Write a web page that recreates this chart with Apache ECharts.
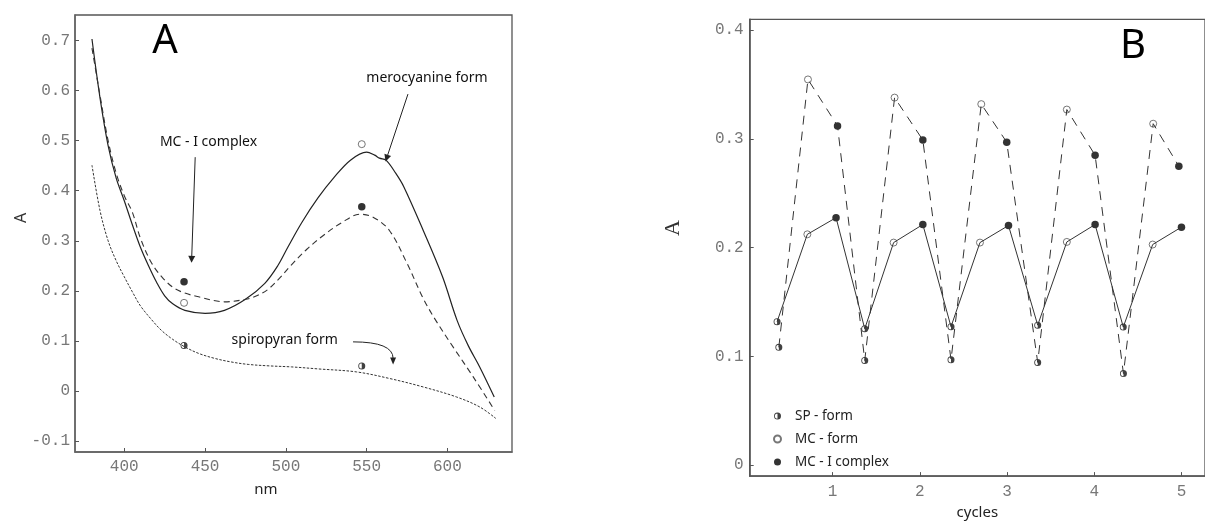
<!DOCTYPE html>
<html><head><meta charset="utf-8">
<script src="https://cdn.jsdelivr.net/npm/echarts@6/dist/echarts.min.js"></script>
<style>html,body{margin:0;padding:0;background:#fff}#c{width:1205px;height:525px}</style>
</head><body><div id="c"></div><script>
// ---------- Panel A : spectra ----------
const mcCurveNm = [380,385,390,395,400,405,410,415,420,425,430,437.5,450,462,475,487,495,501.4,510,520,530,540,550,555,558,562,568,573,585,597,606,613,620,629];
const mcCurveA  = [0.703,0.585,0.49,0.425,0.38,0.332,0.287,0.25,0.217,0.19,0.174,0.161,0.155,0.161,0.183,0.215,0.25,0.288,0.337,0.386,0.427,0.461,0.477,0.471,0.465,0.461,0.435,0.408,0.321,0.228,0.141,0.09,0.048,-0.012];
const mciCurveNm = [380,385,390,395,400,405,410,417,424,431,438,446,462,475,482,489,496,503.5,513,523,535,546,554,564,575,585,593,603.5,616,629.3];
const mciCurveA  = [0.685,0.59,0.5,0.435,0.39,0.357,0.305,0.255,0.225,0.205,0.195,0.188,0.178,0.183,0.19,0.203,0.225,0.252,0.283,0.31,0.337,0.353,0.347,0.321,0.255,0.185,0.14,0.088,0.028,-0.039];
const spCurveNm = [380,385,390,395,400,405,410,417,423,430,437.5,446,456,466,476.7,490,503.5,520,543.7,564,585,605.6,620,630];
const spCurveA  = [0.451,0.36,0.3,0.26,0.228,0.198,0.17,0.142,0.121,0.103,0.088,0.075,0.065,0.058,0.053,0.05,0.048,0.044,0.038,0.025,0.008,-0.012,-0.032,-0.055];
const pointNm = [437, 547];
const pointMC  = [0.176, 0.493];
const pointMCI = [0.218, 0.368];
const pointSP  = [0.091, 0.050];
const ticksNm = [400,450,500,550,600];
const ticksA  = [-0.1,0,0.1,0.2,0.3,0.4,0.5,0.6,0.7];

// ---------- Panel B : cycles ----------
const spLowX  = [0.364,1.369,2.358,3.352,4.333];
const spLowY  = [0.132,0.1255,0.1274,0.1288,0.127];
const mcLowX  = [0.711,1.70,2.69,3.686,4.67];
const mcLowY  = [0.2123,0.2047,0.2047,0.2053,0.2029];
const mciLowX = [1.04,2.035,3.017,4.01,5.0];
const mciLowY = [0.2276,0.2213,0.2204,0.2213,0.2189];
const spUpX   = [0.384,1.369,2.358,3.352,4.335];
const spUpY   = [0.1084,0.0963,0.0969,0.0945,0.0843];
const mcUpX   = [0.718,1.711,2.705,3.686,4.676];
const mcUpY   = [0.3547,0.338,0.332,0.327,0.314];
const mciUpX  = [1.057,2.035,2.997,4.01,4.97];
const mciUpY  = [0.312,0.299,0.297,0.285,0.275];
const ticksCycles = [1,2,3,4,5];
const ticksB = [0,0.1,0.2,0.3,0.4];

const zip = (xs, ys) => xs.map((x, i) => [x, ys[i]]);
const interleave = (a, b, c) => { const r = []; for (let i = 0; i < a.length; i++) r.push(a[i], b[i], c[i]); return r; };
const lowLine = interleave(zip(spLowX, spLowY), zip(mcLowX, mcLowY), zip(mciLowX, mciLowY));
const upLine  = interleave(zip(spUpX, spUpY), zip(mcUpX, mcUpY), zip(mciUpX, mciUpY));

const HALF = 'path://M0,-1 A1,1 0 0,1 0,1 A1,1 0 0,1 0,-1 L0,-0.75 A0.75,0.75 0 0,0 0,0.75 L0,-0.75 L0,-1 Z';
const openStyle = {color:'#fff', borderColor:'#555', borderWidth:1};
const fillStyle = {color:'#000'};
const halfStyle = {color:'#111'};
const mono = 'Liberation Mono';
const sans = 'Noto Sans';

const chart = echarts.init(document.getElementById('c'));
chart.setOption({
  animation:false,
  grid:[
    {left:75, top:15, width:437, height:437, show:true, borderColor:'#555', borderWidth:1.3},
    {left:749.7, top:19.3, width:457.3, height:465, show:true, borderColor:'#555', borderWidth:1.3}
  ],
  xAxis:[
    {gridIndex:0, type:'value', min:369.5, max:640,
     axisLine:{onZero:false, lineStyle:{color:'#666', width:1.5}}, splitLine:{show:false},
     axisTick:{inside:true, length:4, customValues:ticksNm, lineStyle:{color:'#555'}},
     axisLabel:{customValues:ticksNm, color:'#777', fontFamily:mono, fontSize:16, margin:7},
     name:'nm', nameLocation:'middle', nameGap:30,
     nameTextStyle:{color:'#222', fontFamily:sans, fontSize:15, padding:[0,55,0,0]}},
    {gridIndex:1, type:'value', min:0.05, max:5.27,
     axisLine:{onZero:false, lineStyle:{color:'#555', width:1.5}}, splitLine:{show:false},
     axisTick:{inside:true, length:4, customValues:ticksCycles, lineStyle:{color:'#555'}},
     axisLabel:{customValues:ticksCycles, color:'#777', fontFamily:mono, fontSize:16, margin:8},
     name:'cycles', nameLocation:'middle', nameGap:25,
     nameTextStyle:{color:'#222', fontFamily:sans, fontSize:15}}
  ],
  yAxis:[
    {gridIndex:0, type:'value', min:-0.122, max:0.751,
     axisLine:{onZero:false, lineStyle:{color:'#666', width:1.5}}, splitLine:{show:false},
     axisTick:{inside:true, length:4, customValues:ticksA, lineStyle:{color:'#555'}},
     axisLabel:{customValues:ticksA, color:'#777', fontFamily:mono, fontSize:16, margin:5}},
    {gridIndex:1, type:'value', min:-0.01, max:0.41,
     axisLine:{onZero:false, lineStyle:{color:'#555', width:1.5}}, splitLine:{show:false},
     axisTick:{inside:true, length:4, customValues:ticksB, lineStyle:{color:'#555'}},
     axisLabel:{customValues:ticksB, color:'#777', fontFamily:mono, fontSize:16, margin:6}}
  ],
  legend:{
    data:['SP - form','MC - form','MC - I complex'],
    orient:'vertical', left:768, top:403, itemWidth:7, itemHeight:7, itemGap:7,
    selectedMode:false,
    textStyle:{fontFamily:sans, fontSize:13.5, color:'#222', lineHeight:16, padding:[0,0,0,9]}
  },
  series:[
    {type:'line', name:'merocyanine form', xAxisIndex:0, yAxisIndex:0, data:zip(mcCurveNm, mcCurveA),
     smooth:0.35, showSymbol:false, silent:true, lineStyle:{color:'#222', width:1.2},
     markLine:{silent:true, symbol:['none','triangle'], symbolSize:7, label:{show:false},
       lineStyle:{color:'#222', width:1, type:'solid'},
       data:[
         [{coord:[575.6,0.593]},{coord:[562.4,0.465]}],
         [{coord:[443.9,0.467]},{coord:[441.7,0.263]}]
       ]}},
    {type:'line', name:'MC - I complex curve', xAxisIndex:0, yAxisIndex:0, data:zip(mciCurveNm, mciCurveA),
     smooth:0.35, showSymbol:false, silent:true, lineStyle:{color:'#333', width:1.1, type:[6,4]}},
    {type:'line', name:'spiropyran form', xAxisIndex:0, yAxisIndex:0, data:zip(spCurveNm, spCurveA),
     smooth:0.35, showSymbol:false, silent:true, lineStyle:{color:'#333', width:1, type:[2.5,1.5]}},
    {type:'scatter', name:'A-MC', xAxisIndex:0, yAxisIndex:0, data:zip(pointNm, pointMC), symbol:'circle', symbolSize:7, itemStyle:openStyle, silent:true},
    {type:'scatter', name:'A-MCI', xAxisIndex:0, yAxisIndex:0, data:zip(pointNm, pointMCI), symbol:'circle', symbolSize:7.5, itemStyle:fillStyle, silent:true},
    {type:'scatter', name:'A-SP', xAxisIndex:0, yAxisIndex:0, data:zip(pointNm, pointSP), symbol:HALF, symbolSize:7, itemStyle:halfStyle, silent:true},

    {type:'line', name:'B solid', xAxisIndex:1, yAxisIndex:1, data:lowLine, showSymbol:false, silent:true,
     lineStyle:{color:'#333', width:1}},
    {type:'line', name:'B dashed', xAxisIndex:1, yAxisIndex:1, data:upLine, showSymbol:false, silent:true,
     lineStyle:{color:'#333', width:1, type:[9,7]}},
    {type:'scatter', name:'SP - form', xAxisIndex:1, yAxisIndex:1, data:zip(spLowX,spLowY).concat(zip(spUpX,spUpY)), symbol:HALF, symbolSize:7, itemStyle:halfStyle, silent:true},
    {type:'scatter', name:'MC - form', xAxisIndex:1, yAxisIndex:1, data:zip(mcLowX,mcLowY).concat(zip(mcUpX,mcUpY)), symbol:'circle', symbolSize:7, itemStyle:openStyle, silent:true},
    {type:'scatter', name:'MC - I complex', xAxisIndex:1, yAxisIndex:1, data:zip(mciLowX,mciLowY).concat(zip(mciUpX,mciUpY)), symbol:'circle', symbolSize:7.5, itemStyle:fillStyle, silent:true}
  ]
});

// curved "spiropyran form" arrow, anchored in data coordinates
const arrowStart = chart.convertToPixel({gridIndex:0}, [541.6, 0.098]);
const arrowTip   = chart.convertToPixel({gridIndex:0}, [566.4, 0.053]);
const headLen = 7, headHalf = 3;
chart.setOption({
  graphic:[
    {type:'bezierCurve', silent:true,
     shape:{x1:arrowStart[0], y1:arrowStart[1], cpx1:arrowTip[0], cpy1:arrowStart[1], x2:arrowTip[0], y2:arrowTip[1]-headLen+1},
     style:{stroke:'#222', lineWidth:1, fill:null}},
    {type:'polygon', silent:true,
     shape:{points:[[arrowTip[0],arrowTip[1]],[arrowTip[0]-headHalf,arrowTip[1]-headLen],[arrowTip[0]+headHalf,arrowTip[1]-headLen]]},
     style:{fill:'#222'}},
    {type:'text', x:165, y:42, style:{text:'A', font:'40px "Noto Sans"', fill:'#000', align:'center', verticalAlign:'middle'}},
    {type:'text', x:1133, y:47, style:{text:'B', font:'40px "Noto Sans"', fill:'#000', align:'center', verticalAlign:'middle'}},
    {type:'text', x:427, y:78, style:{text:'merocyanine form', font:'14px "Noto Sans"', fill:'#111', align:'center', verticalAlign:'middle'}},
    {type:'text', x:208.5, y:142, style:{text:'MC - I complex', font:'14px "Noto Sans"', fill:'#111', align:'center', verticalAlign:'middle'}},
    {type:'text', x:284.7, y:340, style:{text:'spiropyran form', font:'14px "Noto Sans"', fill:'#111', align:'center', verticalAlign:'middle'}},
    {type:'text', x:21, y:218, rotation:Math.PI/2, style:{text:'A', font:'16px "Noto Sans"', fill:'#333', align:'center', verticalAlign:'middle'}},
    {type:'text', x:673, y:228, rotation:Math.PI/2, style:{text:'A', font:'22px "Liberation Serif"', fill:'#333', align:'center', verticalAlign:'middle'}}
  ]
});
</script></body></html>
